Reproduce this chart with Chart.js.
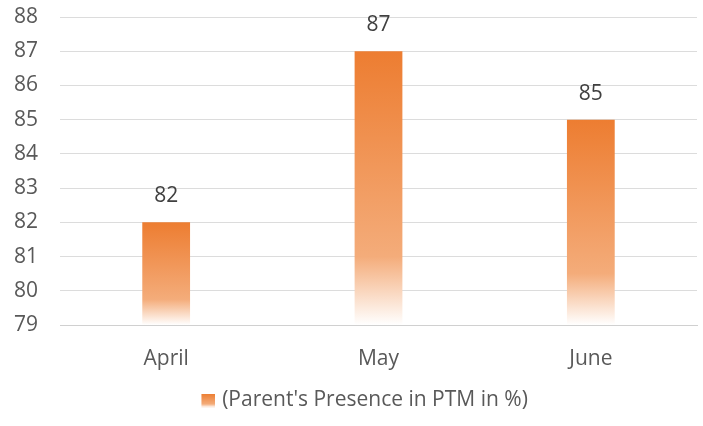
<!DOCTYPE html>
<html>
<head>
<meta charset="utf-8">
<script src="https://cdn.jsdelivr.net/npm/chart.js@4.4.1/dist/chart.umd.min.js"></script>
<style>
  html, body { margin: 0; padding: 0; background: #fff; }
  #wrap { width: 703px; height: 426px; }
</style>
</head>
<body>
<div id="wrap"><canvas id="myBar"></canvas></div>
<script>
const months = ['April', 'May', 'June'];
const presence = [82, 87, 85];
const yTicks = [79, 80, 81, 82, 83, 84, 85, 86, 87, 88];
const seriesName = "(Parent's Presence in PTM in %)";

const txtColor = '#595959';
const fontFam = "'Open Sans', 'Liberation Sans', sans-serif";
const fontSize = 21;

// excel like gradient, orange on top and white at the base
function addStops(g) {
    g.addColorStop(0, '#ED7D31');
    g.addColorStop(0.75, '#F4AC7A');
    g.addColorStop(1, '#FFFFFF');
    return g;
}

function barGradient(context) {
    const chart = context.chart;
    const yScale = chart.scales.y;
    if (!chart.chartArea || !yScale || context.dataIndex === undefined) return '#ED7D31';
    const top = yScale.getPixelForValue(context.raw);
    const bottom = yScale.getPixelForValue(yScale.min);
    return addStops(chart.ctx.createLinearGradient(0, top, 0, bottom));
}

// legend marker: 14px gradient square sitting on the right of a wider image
const legendBox = document.createElement('canvas');
legendBox.width = 50;
legendBox.height = 14;
const lctx = legendBox.getContext('2d');
lctx.fillStyle = addStops(lctx.createLinearGradient(0, 0, 0, 14));
lctx.fillRect(36, 0, 14, 14);

// values over the bars
const valueLabels = {
    id: 'valueLabels',
    afterDatasetsDraw(chart) {
        const ctx = chart.ctx;
        const meta = chart.getDatasetMeta(0);
        ctx.save();
        ctx.font = fontSize + 'px ' + fontFam;
        ctx.fillStyle = '#404040';
        ctx.textAlign = 'center';
        ctx.textBaseline = 'middle';
        meta.data.forEach((bar, i) => {
            ctx.fillText(presence[i], bar.x, bar.y - 26);
        });
        ctx.restore();
    }
};

new Chart(document.getElementById('myBar'), {
    type: 'bar',
    data: {
        labels: months,
        datasets: [{
            label: seriesName,
            data: presence,
            backgroundColor: barGradient,
            borderWidth: 0,
            barPercentage: 0.45,
            categoryPercentage: 0.5
        }]
    },
    options: {
        responsive: true,
        maintainAspectRatio: false,
        animation: false,
        layout: { autoPadding: false, padding: { left: 0, right: 6, top: 17, bottom: 5 } },
        scales: {
            x: {
                grid: { display: false, drawTicks: false },
                border: { color: '#d0d0d0', width: 1 },
                ticks: { color: txtColor, font: { family: fontFam, size: fontSize }, padding: 21 },
                afterFit: (axis) => { axis.height = 45; }
            },
            y: {
                min: 79,
                max: 88,
                afterBuildTicks: (axis) => { axis.ticks = yTicks.map(v => ({ value: v })); },
                grid: { color: '#dcdcdc', drawTicks: false },
                border: { display: false },
                ticks: { color: txtColor, font: { family: fontFam, size: fontSize }, padding: 22 },
                afterFit: (axis) => {
                    axis.width = 60;
                    axis.paddingTop = 0;
                    axis.paddingBottom = 0;
                }
            }
        },
        plugins: {
            tooltip: { enabled: false },
            legend: {
                position: 'bottom',
                labels: {
                    usePointStyle: true,
                    pointStyle: legendBox,
                    pointStyleWidth: 42.5,
                    color: txtColor,
                    font: { family: fontFam, size: fontSize },
                    padding: 20
                }
            }
        }
    },
    plugins: [valueLabels]
});
</script>
</body>
</html>
